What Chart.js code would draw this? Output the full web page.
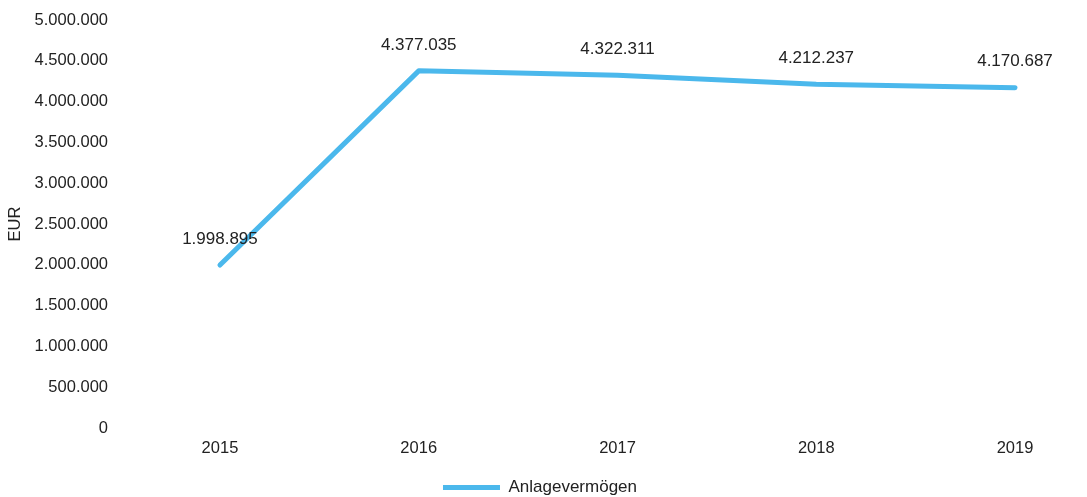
<!DOCTYPE html>
<html>
<head>
<meta charset="utf-8">
<script src="https://cdn.jsdelivr.net/npm/chart.js@4/dist/chart.umd.min.js"></script>
<style>
  html, body { margin: 0; padding: 0; background: #fff; }
  #wrap { width: 1087px; height: 497px; }
</style>
</head>
<body>
<div id="wrap"><canvas id="chart"></canvas></div>
<script>
// values
const years = [2015, 2016, 2017, 2018, 2019];
const anlagevermoegen = [1998895, 4377035, 4322311, 4212237, 4170687];
const seriesName = 'Anlagevermögen';
const axisTitle = 'EUR';

const lineColor = '#4bb8ec';

// German style thousands separator
const fmt = (v) => Math.round(v).toString().replace(/\B(?=(\d{3})+(?!\d))/g, '.');

// draw the value above each point
const valueLabels = {
  id: 'valueLabels',
  afterDatasetsDraw(chart) {
    const ctx = chart.ctx;
    const meta = chart.getDatasetMeta(0);
    ctx.save();
    ctx.font = '17px "Liberation Sans", Arial, sans-serif';
    ctx.fillStyle = '#222';
    ctx.textAlign = 'center';
    ctx.textBaseline = 'middle';
    meta.data.forEach((pt, i) => {
      ctx.fillText(fmt(anlagevermoegen[i]), pt.x, pt.y - 26);
    });
    ctx.restore();
  },
};

Chart.defaults.font.family = '"Liberation Sans", Arial, sans-serif';
Chart.defaults.font.size = 16.5;
Chart.defaults.color = '#222';

new Chart(document.getElementById('chart'), {
  type: 'line',
  data: {
    datasets: [
      {
        label: seriesName,
        data: years.map((y, i) => ({ x: y, y: anlagevermoegen[i] })),
        borderColor: lineColor,
        backgroundColor: lineColor,
        borderWidth: 5,
        borderCapStyle: 'round',
        borderJoinStyle: 'round',
        tension: 0,
        pointRadius: 0,
        pointHoverRadius: 0,
      },
    ],
  },
  options: {
    responsive: true,
    maintainAspectRatio: false,
    animation: false,
    layout: {
      padding: { top: 20, right: 7, left: 0, bottom: -9 },
    },
    scales: {
      x: {
        type: 'linear',
        min: 2014.487,
        max: 2019.327,
        grid: { display: false },
        border: { display: false },
        afterBuildTicks: (scale) => {
          scale.ticks = years.map((y) => ({ value: y }));
        },
        afterFit: (scale) => {
          scale.height += 17;
        },
        ticks: {
          autoSkip: false,
          maxRotation: 0,
          padding: 2,
          callback: (v) => String(v),
        },
      },
      y: {
        min: 0,
        max: 5000000,
        grid: { display: false },
        border: { display: false },
        afterFit: (scale) => {
          scale.width = 118;
        },
        ticks: {
          stepSize: 500000,
          padding: 2,
          callback: (v) => fmt(v),
        },
        title: {
          display: true,
          text: axisTitle,
          padding: { top: 6, bottom: 0 },
        },
      },
    },
    plugins: {
      legend: {
        position: 'bottom',
        labels: {
          usePointStyle: true,
          pointStyle: 'line',
          pointStyleWidth: 57,
          boxHeight: 5,
          padding: 2,
          font: { size: 17 },
        },
      },
      tooltip: { enabled: false },
    },
  },
  plugins: [valueLabels],
});
</script>
</body>
</html>
